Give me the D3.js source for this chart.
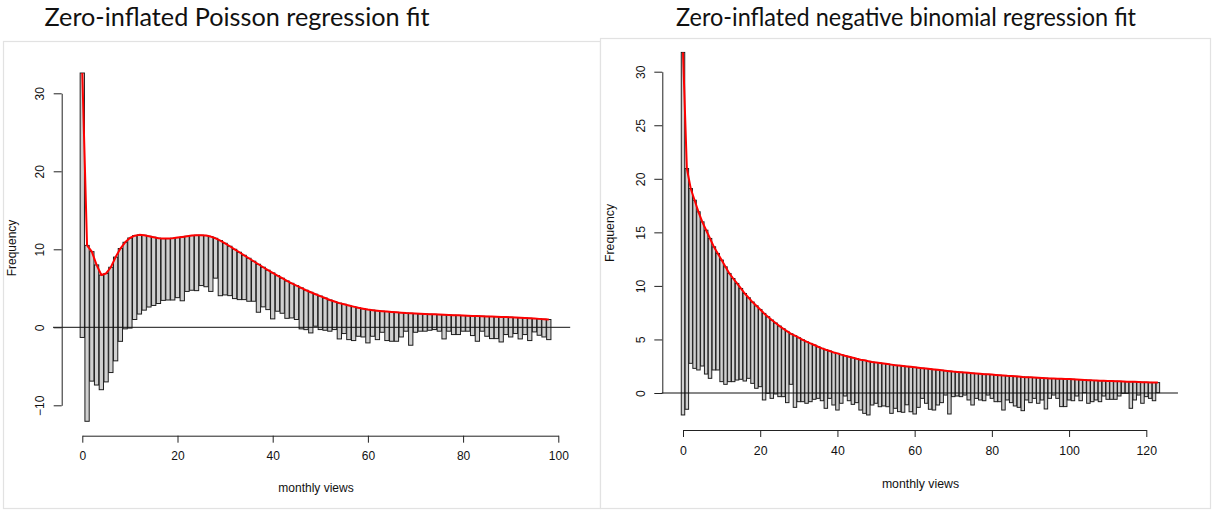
<!DOCTYPE html>
<html>
<head>
<meta charset="utf-8">
<script src="https://cdn.jsdelivr.net/npm/d3@7"></script>
<style>
  html, body { margin: 0; padding: 0; background: #fff; }
  svg { display: block; }
</style>
</head>
<body>
<svg id="chart" width="1212" height="510"></svg>
<script>
// ---------------- data ----------------
const leftTitle = "Zero-inflated Poisson regression fit";
const rightTitle = "Zero-inflated negative binomial regression fit";
const xLabel = "monthly views";
const yLabel = "Frequency";

const leftXTicks = [0, 20, 40, 60, 80, 100];
const leftYTicks = [-10, 0, 10, 20, 30];
const rightXTicks = [0, 20, 40, 60, 80, 100, 120];
const rightYTicks = [0, 5, 10, 15, 20, 25, 30];

// Poisson fit: fitted curve (top of hanging bars), v = 0..98
const leftFitted = [32.6, 10.5, 9.7, 8.0, 6.7, 6.9, 7.7, 9.0, 10.1, 10.9,
  11.45, 11.75, 11.85, 11.8, 11.67, 11.55, 11.43, 11.37, 11.37, 11.42,
  11.5, 11.58, 11.67, 11.76, 11.8, 11.8, 11.76, 11.63, 11.41, 11.12,
  10.77, 10.39, 10.0, 9.62, 9.23, 8.85, 8.47, 8.08, 7.7, 7.32,
  6.97, 6.63, 6.29, 5.94, 5.64, 5.35, 5.05, 4.75, 4.49, 4.24,
  4.0, 3.75, 3.5, 3.3, 3.1, 2.95, 2.8, 2.65, 2.5, 2.38,
  2.27, 2.2, 2.13, 2.07, 2.02, 1.97, 1.92, 1.88, 1.83, 1.8,
  1.76, 1.73, 1.71, 1.68, 1.66, 1.63, 1.6, 1.58, 1.55, 1.53,
  1.5, 1.48, 1.46, 1.44, 1.42, 1.4, 1.38, 1.36, 1.33, 1.31,
  1.29, 1.26, 1.23, 1.2, 1.16, 1.12, 1.08, 1.04, 1.0];
// Poisson fit: bottom of each hanging bar
const leftBottom = [-1.3, -12.05, -6.9, -7.4, -8.0, -7.0, -5.8, -4.3, -1.8, -0.2,
  -0.1, 1.0, 1.7, 2.2, 2.6, 2.8, 3.05, 3.45, 3.5, 3.5,
  3.8, 3.4, 4.6, 4.75, 4.7, 5.35, 5.2, 4.6, 6.3, 4.05,
  4.15, 4.06, 3.68, 3.55, 3.55, 3.34, 3.34, 1.93, 2.62, 2.27,
  1.08, 2.06, 1.8, 1.15, 1.2, 1.0, -0.2, -0.3, -0.72, 0.14,
  -0.29, -0.38, -0.5, -0.29, -1.49, -0.8, -1.58, -1.7, -1.15, -1.24,
  -2.0, -1.15, -1.58, -0.64, -1.7, -1.79, -1.79, -1.24, -0.5, -2.3,
  -0.64, -0.5, -0.5, -0.38, -0.29, -0.5, -1.49, -0.5, -0.93, -0.93,
  -0.5, -0.5, -1.06, -1.79, -0.5, -1.15, -1.45, -1.45, -1.88, -0.93,
  -1.24, -0.8, -1.49, -0.93, -1.7, -0.59, -1.02, -1.24, -1.58];

// Negative binomial fit: fitted curve, v = 0..123
const rightFitted = [31.8, 20.96, 19.09, 18.0, 16.92, 15.98, 15.2, 14.43, 13.65, 13.03,
  12.41, 11.78, 11.16, 10.69, 10.23, 9.76, 9.29, 8.89, 8.49, 8.14,
  7.8, 7.43, 7.12, 6.81, 6.53, 6.25, 6.0, 5.75, 5.53, 5.35,
  5.16, 4.97, 4.79, 4.63, 4.48, 4.32, 4.17, 4.04, 3.92, 3.79,
  3.7, 3.58, 3.48, 3.39, 3.3, 3.2, 3.11, 3.05, 2.96, 2.89,
  2.85, 2.8, 2.75, 2.7, 2.65, 2.6, 2.56, 2.52, 2.48, 2.44,
  2.4, 2.36, 2.32, 2.28, 2.24, 2.2, 2.16, 2.12, 2.08, 2.04,
  2.0, 1.97, 1.94, 1.91, 1.88, 1.85, 1.82, 1.79, 1.76, 1.74,
  1.72, 1.69, 1.66, 1.63, 1.6, 1.58, 1.56, 1.53, 1.5, 1.48,
  1.46, 1.44, 1.42, 1.4, 1.38, 1.36, 1.35, 1.33, 1.32, 1.31,
  1.3, 1.28, 1.26, 1.24, 1.22, 1.2, 1.18, 1.17, 1.15, 1.14,
  1.13, 1.12, 1.1, 1.09, 1.08, 1.06, 1.05, 1.04, 1.03, 1.01,
  1.0, 0.99, 0.98, 0.97];
// Negative binomial fit: bottom of each hanging bar
const rightBottom = [-2.05, -1.52, 2.77, 2.3, 2.15, 2.52, 1.77, 1.37, 2.15, 2.15,
  1.06, 0.81, 1.06, 1.06, 1.21, 1.28, 1.12, 1.37, 0.9, 0.44,
  0.59, -0.65, -0.03, -0.5, -0.09, -0.34, -0.34, -0.9, 0.81, -1.34,
  -0.81, -0.81, -0.96, -0.81, -0.59, -0.5, -0.72, -1.43, -0.5, -1.12,
  -1.59, -0.96, -0.28, -0.72, -1.06, -0.9, -1.59, -1.9, -2.05, -1.12,
  -0.96, -1.28, -1.21, -1.28, -1.9, -1.43, -1.74, -1.8, -1.1, -1.75,
  -1.96, -1.34, -0.5, -0.96, -1.52, -1.59, -1.12, -0.9, -0.19, -1.96,
  -0.34, -0.28, -0.34, -0.19, -0.65, -1.12, -0.5, -0.65, -0.72, -0.19,
  -0.5, -0.81, -0.81, -1.59, -0.65, -0.9, -1.21, -1.34, -1.65, -0.65,
  -0.9, -0.5, -0.96, -0.65, -1.49, -0.5, -0.19, -0.5, -1.27, -1.27,
  -0.65, -0.72, -0.28, -0.72, 0.03, -0.96, -0.81, -0.65, -0.81, -0.28,
  -0.59, -0.59, -0.59, -0.28, -0.03, -0.03, -1.43, -0.65, -0.19, -0.96,
  -0.34, -0.5, -0.72, 0.03];

// ---------------- drawing ----------------
const svg = d3.select("#chart");
const FONT = "'Liberation Sans', Arial, Helvetica, sans-serif";

function panel(cfg) {
  const g = svg.append("g");
  // panel frame
  g.append("rect")
    .attr("x", cfg.frame[0] + 0.5).attr("y", cfg.frame[1] + 0.5)
    .attr("width", cfg.frame[2]).attr("height", cfg.frame[3])
    .attr("fill", "#fff").attr("stroke", "#e2e2e2").attr("stroke-width", 1.2);

  // title
  svg.append("text")
    .attr("x", cfg.titleX).attr("y", 26)
    .attr("text-anchor", "middle")
    .attr("font-family", "Lato, 'Open Sans', sans-serif")
    .attr("font-size", 25)
    .attr("textLength", cfg.titleLen)
    .attr("lengthAdjust", "spacingAndGlyphs")
    .attr("fill", "#111")
    .text(cfg.title);

  const x = d3.scaleLinear().domain(cfg.xDomain).range(cfg.xRange);
  const y = d3.scaleLinear().domain(cfg.yDomain).range(cfg.yRange);
  const vals = cfg.fitted.map((f, i) => ({ v: i, top: f, bottom: cfg.bottom[i] }));
  const bw = x(cfg.barWidth) - x(0);

  // bars
  g.append("g").selectAll("rect").data(vals).join("rect")
    .attr("x", d => x(d.v) - bw / 2)
    .attr("y", d => y(d.top))
    .attr("width", bw)
    .attr("height", d => y(d.bottom) - y(d.top))
    .attr("fill", "#d0d0d0")
    .attr("stroke", "#1e1e1e")
    .attr("stroke-width", 1);

  // zero reference line
  g.append("line")
    .attr("x1", x(cfg.usrX[0])).attr("x2", x(cfg.usrX[1]))
    .attr("y1", y(0)).attr("y2", y(0))
    .attr("stroke", "#111").attr("stroke-width", 1);

  // fitted curve
  g.append("path").datum(vals)
    .attr("fill", "none").attr("stroke", "#ff0000").attr("stroke-width", 2)
    .attr("stroke-linejoin", "round")
    .attr("d", d3.line().x(d => x(d.v)).y(d => y(d.top)));

  // x axis
  const xa = g.append("g")
    .attr("transform", `translate(0,${cfg.xAxisY})`)
    .call(d3.axisBottom(x).tickValues(cfg.xTicks).tickSizeOuter(0).tickSizeInner(7).tickPadding(9));
  xa.selectAll("path, line").attr("stroke", "#222");
  xa.selectAll("text").attr("font-family", FONT).attr("font-size", cfg.fs).attr("fill", "#111");

  // y axis
  const ya = g.append("g")
    .attr("transform", `translate(${cfg.yAxisX},0)`)
    .call(d3.axisLeft(y).tickValues(cfg.yTicks).tickSizeOuter(0).tickSizeInner(8));
  ya.selectAll("path, line").attr("stroke", "#222");
  ya.selectAll("text")
    .attr("font-family", FONT).attr("font-size", cfg.fs).attr("fill", "#111")
    .attr("text-anchor", "middle")
    .attr("transform", "rotate(-90)")
    .attr("x", 0).attr("y", -cfg.yLabOff).attr("dy", "0.35em");

  // axis titles
  g.append("text")
    .attr("x", cfg.xLabPos[0]).attr("y", cfg.xLabPos[1])
    .attr("text-anchor", "middle").attr("dy", "0.35em")
    .attr("font-family", FONT).attr("font-size", cfg.fs).attr("fill", "#111")
    .text(xLabel);
  g.append("text")
    .attr("transform", `translate(${cfg.yLabPos[0]},${cfg.yLabPos[1]}) rotate(-90)`)
    .attr("text-anchor", "middle").attr("dy", "0.35em")
    .attr("font-family", FONT).attr("font-size", cfg.fs).attr("fill", "#111")
    .text(yLabel);
}

panel({
  frame: [3, 41, 597, 467],
  title: leftTitle, titleX: 237, titleLen: 385,
  xDomain: [0, 100], xRange: [82.3, 558.3],
  yDomain: [-10, 30], yRange: [405.3, 93.3],
  usrX: [-6.15, 102.5],
  fitted: leftFitted, bottom: leftBottom, barWidth: 0.9,
  xTicks: leftXTicks, yTicks: leftYTicks,
  xAxisY: 435.7, yAxisX: 61.7, yLabOff: 21.7,
  xLabPos: [316, 487.7], yLabPos: [11.5, 248],
  fs: 12
});

panel({
  frame: [600, 38, 610, 470],
  title: rightTitle, titleX: 906, titleLen: 460,
  xDomain: [0, 120], xRange: [683, 1146.3],
  yDomain: [0, 30], yRange: [393, 71.7],
  usrX: [-5.5, 128.2],
  fitted: rightFitted, bottom: rightBottom, barWidth: 0.9,
  xTicks: rightXTicks, yTicks: rightYTicks,
  xAxisY: 430, yAxisX: 662.3, yLabOff: 22,
  xLabPos: [920.5, 483.3], yLabPos: [610, 233],
  fs: 12.3
});
</script>
</body>
</html>
